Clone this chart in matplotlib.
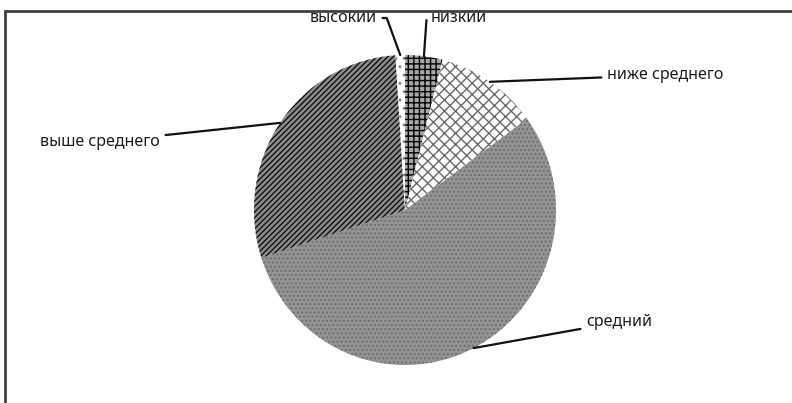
import numpy as np
import matplotlib
matplotlib.use('Agg')
import matplotlib.pyplot as plt
from matplotlib.patches import Rectangle

# данные
labels = ['низкий', 'ниже среднего', 'средний', 'выше среднего', 'высокий']
shares = [4, 11, 55, 29, 1]

# оформление секторов
faces = ['#a8a8a8', '#ffffff', '#949494', '#8c8c8c', '#ffffff']
hatch_colors = ['#000000', '#6a6a6a', '#6e6e6e', '#111111', '#8a8a8a']
hatches = ['+++', 'xxx', '....', '//////', '..']

# позиции подписей (px) и выравнивание
label_px = [(431, 18), (607, 75), (586, 322), (160, 142), (377, 18)]
label_ha = ['left', 'left', 'left', 'right', 'right']
conn = ['angle,angleA=0,angleB=86,rad=0', 'arc3', 'arc3', 'arc3',
        'angle,angleA=0,angleB=-70,rad=0']

W, H = 792, 403
cx, cy, rx, ry = 405, 210, 151, 155

plt.rcParams['font.family'] = ['Noto Sans', 'DejaVu Sans']
plt.rcParams['hatch.linewidth'] = 1.0

fig = plt.figure(figsize=(W / 100, H / 100), dpi=100)
ax = fig.add_axes([(cx - rx) / W, (H - cy - ry) / H, 2 * rx / W, 2 * ry / H])
ax.axis('off')

wedges, _ = ax.pie(shares, startangle=90, counterclock=False, radius=1,
                   wedgeprops=dict(linewidth=0))
ax.set_xlim(-1, 1)
ax.set_ylim(-1, 1)
ax.set_aspect('auto')

for w, fc, hc, h in zip(wedges, faces, hatch_colors, hatches):
    w.set_facecolor(fc)
    w.set_edgecolor(hc)
    w.set_hatch(h)
    w.set_linewidth(0)

# подписи с выносками
for w, lab, (px, py), ha, cs in zip(wedges, labels, label_px, label_ha, conn):
    mid = np.deg2rad((w.theta1 + w.theta2) / 2)
    xy = (np.cos(mid), np.sin(mid))
    tx = (px - cx) / rx
    ty = (cy - py) / ry
    ax.annotate(lab, xy=xy, xytext=(tx, ty), ha=ha, va='center',
                fontsize=11.5, color='#1a1a1a', annotation_clip=False,
                arrowprops=dict(arrowstyle='-', color='#111111', lw=1.6,
                                shrinkA=2, shrinkB=0, connectionstyle=cs))

# рамка области диаграммы
fig.add_artist(Rectangle((5 / W, -0.1), 1.2, 1.1 - 11 / H,
                         transform=fig.transFigure, fill=False,
                         edgecolor='#404040', linewidth=2))

fig.savefig('out.png', dpi=100)
